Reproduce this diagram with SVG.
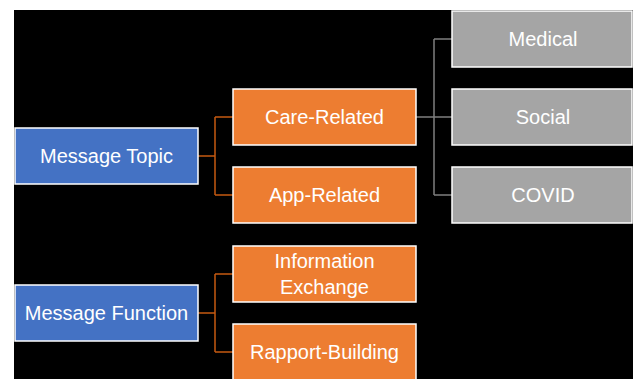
<svg xmlns="http://www.w3.org/2000/svg" width="633" height="379" viewBox="0 0 633 379">
  <style>
    .box { stroke: #FFFFFF; stroke-width: 1.5; }
    .blue { fill: #4472C4; }
    .orange { fill: #ED7D31; }
    .gray { fill: #A5A5A5; }
    .lbl { font-family: "Liberation Sans", Arial, sans-serif; font-size: 20px; fill: #FFFFFF; text-anchor: middle; }
    .c-or { fill: none; stroke: #C55A11; stroke-width: 1.5; }
    .c-gr { fill: none; stroke: #7F7F7F; stroke-width: 1.5; }
  </style>
  <rect x="0" y="0" width="633" height="379" fill="#FFFFFF"/>
  <rect x="14" y="10" width="619" height="369" fill="#000000"/>

  <g id="connectors">
    <path class="c-or" d="M198,156 H215 M215,117 V195 M215,117 H233 M215,195 H233"/>
    <path class="c-gr" d="M416,117 H434 M434,39 V195 M434,39 H452 M434,117 H452 M434,195 H452"/>
    <path class="c-or" d="M198,313 H215 M215,274 V352 M215,274 H233 M215,352 H233"/>
  </g>

  <g id="message-topic">
    <rect class="box blue" x="15" y="128" width="183" height="56"/>
    <text class="lbl" x="106.5" y="163">Message Topic</text>
  </g>
  <g id="care-related">
    <rect class="box orange" x="233" y="89" width="183" height="56"/>
    <text class="lbl" x="324.5" y="124">Care-Related</text>
  </g>
  <g id="app-related">
    <rect class="box orange" x="233" y="167" width="183" height="56"/>
    <text class="lbl" x="324.5" y="202">App-Related</text>
  </g>
  <g id="medical">
    <rect class="box gray" x="452" y="11" width="180" height="56"/>
    <text class="lbl" x="543" y="46">Medical</text>
  </g>
  <g id="social">
    <rect class="box gray" x="452" y="89" width="180" height="56"/>
    <text class="lbl" x="543" y="124">Social</text>
  </g>
  <g id="covid">
    <rect class="box gray" x="452" y="167" width="180" height="56"/>
    <text class="lbl" x="543" y="202">COVID</text>
  </g>
  <g id="message-function">
    <rect class="box blue" x="15" y="285" width="183" height="56"/>
    <text class="lbl" x="106.5" y="320">Message Function</text>
  </g>
  <g id="information-exchange">
    <rect class="box orange" x="233" y="246" width="183" height="56"/>
    <text class="lbl" x="324.5" y="268">Information</text>
    <text class="lbl" x="324.5" y="294">Exchange</text>
  </g>
  <g id="rapport-building">
    <rect class="box orange" x="233" y="324" width="183" height="60"/>
    <text class="lbl" x="324.5" y="359">Rapport-Building</text>
  </g>
</svg>
